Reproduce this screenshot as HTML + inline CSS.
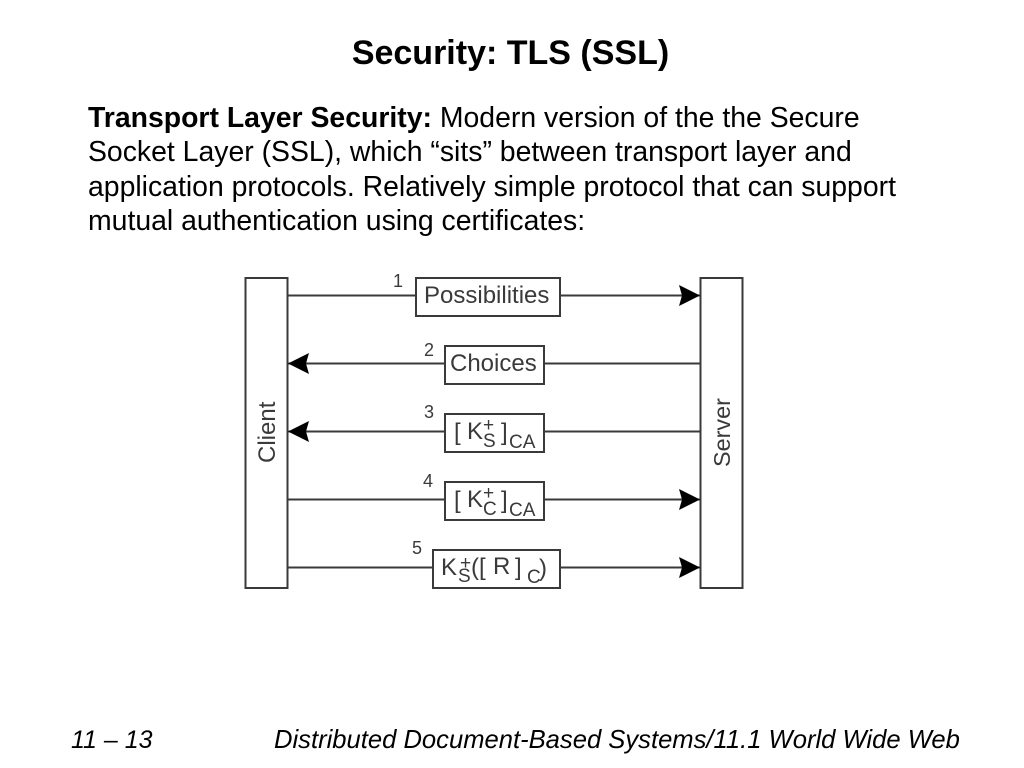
<!DOCTYPE html>
<html><head><meta charset="utf-8"><style>
html,body{margin:0;padding:0;background:#fff}
body{width:1024px;height:768px;overflow:hidden;position:relative;font-family:"Liberation Sans",sans-serif;color:#000}
.t{position:absolute;white-space:nowrap}
svg{position:absolute;left:0;top:0}
svg text{font-family:"Liberation Sans",sans-serif;fill:#3a3a3a}
</style></head><body>
<div class="t" style="left:0;width:1021px;text-align:center;top:34px;font-size:34px;line-height:39px;font-weight:bold">Security: TLS (SSL)</div>
<div class="t" style="left:88px;top:101px;font-size:28.4px;line-height:34.4px"><b>Transport Layer Security:</b> Modern version of the the Secure<br>Socket Layer (SSL), which “sits” between transport layer and<br>application protocols. Relatively simple protocol that can support<br>mutual authentication using certificates:</div>
<div class="t" style="left:71px;top:726px;font-size:25px;line-height:29px;font-style:italic">11 – 13</div>
<div class="t" style="left:274px;top:726px;font-size:25.6px;line-height:29px;font-style:italic">Distributed Document-Based Systems/11.1 World Wide Web</div>
<svg width="1024" height="768" viewBox="0 0 1024 768">
<g fill="none" stroke="#3a3a3a" stroke-width="2">
<rect x="245.500" y="278" width="42" height="310"/>
<rect x="700.500" y="278" width="42" height="310"/>
<path d="M288 295.500H416M560 295.500H700M288 363.500H445M544 363.500H700M288 431.500H445M544 431.500H700M288 499.500H445M544 499.500H700M288 567.500H433M560 567.500H700"/>
<rect x="416" y="278" width="144" height="38"/>
<rect x="445" y="346" width="99" height="38"/>
<rect x="445" y="414" width="99" height="38"/>
<rect x="445" y="482" width="99" height="38"/>
<rect x="433" y="550" width="127" height="38"/>
</g>
<g fill="#000">
<path d="M700 295.500L679 285L682 295.500L679 306Z"/>
<path d="M288 363.500L309 353L306 363.500L309 374Z"/>
<path d="M288 431.500L309 421L306 431.500L309 442Z"/>
<path d="M700 499.500L679 489L682 499.500L679 510Z"/>
<path d="M700 567.500L679 557L682 567.500L679 578Z"/>
</g>
<g font-size="18">
<text x="393" y="287">1</text><text x="424" y="356">2</text><text x="424" y="418">3</text><text x="423" y="487">4</text><text x="412" y="554">5</text>
</g>
<g font-size="24">
<text x="424" y="303">Possibilities</text>
<text x="450" y="371">Choices</text>
<text transform="translate(275,463) rotate(-90)">Client</text>
<text transform="translate(730,467) rotate(-90)" font-size="23.400">Server</text>
<text x="454" y="440">[</text><text x="467" y="439">K</text>
<text x="454" y="508">[</text><text x="467" y="507">K</text>
<text x="441" y="575">K</text>
<text x="471" y="575">([</text><text x="493" y="574">R</text><text x="515" y="575">]</text>
<text x="539" y="576">)</text>
<text x="501" y="440">]</text><text x="501" y="508">]</text>
</g>
<g font-size="19">
<text x="509" y="448">CA</text><text x="509" y="516">CA</text>
<text x="483" y="447">S</text><text x="483" y="515">C</text>
<text x="458" y="582">S</text><text x="527" y="583">C</text>
<text x="483" y="431">+</text><text x="483" y="499">+</text><text x="460" y="569">+</text>
</g>
</svg>
</body></html>
